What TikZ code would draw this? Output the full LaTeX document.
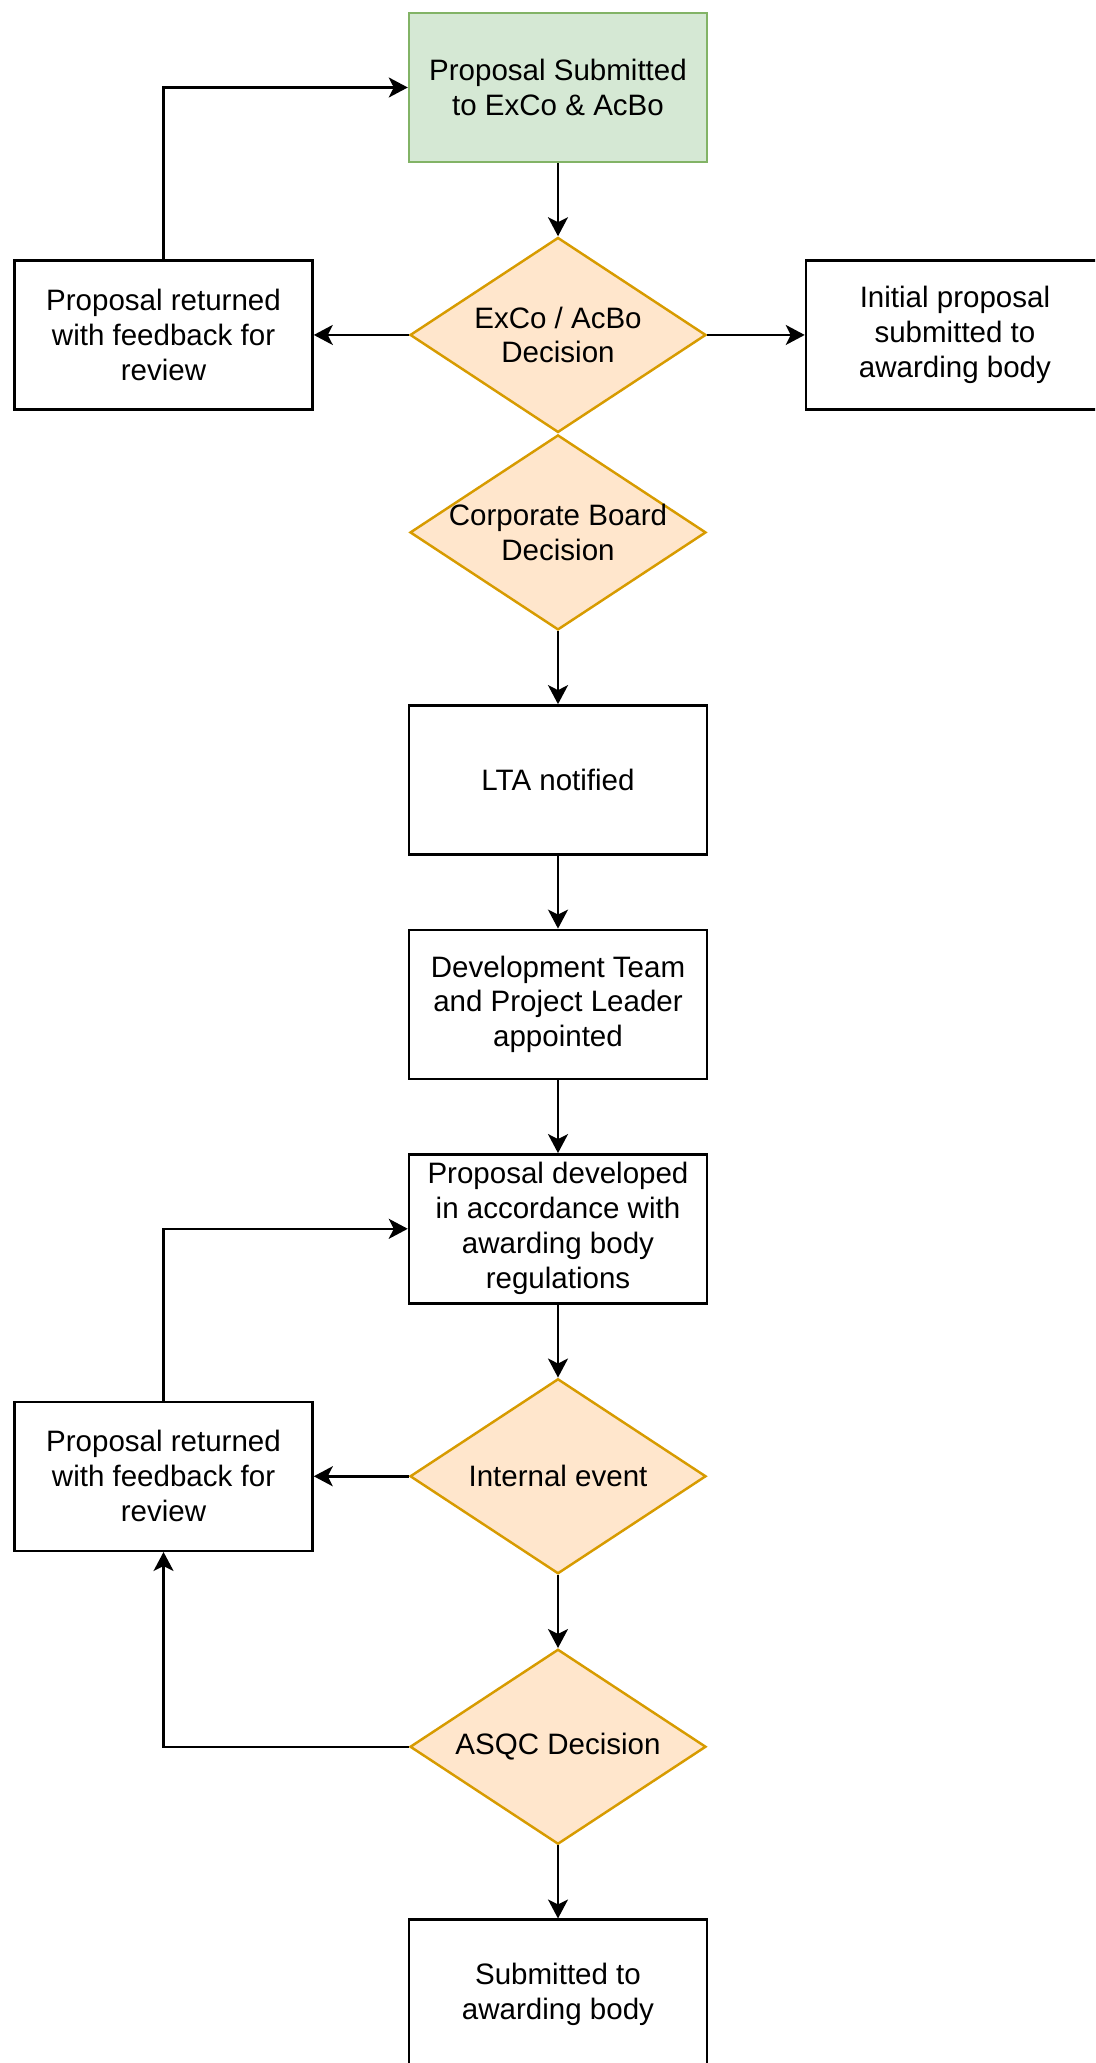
\documentclass[tikz,border=0pt]{standalone}
\usepackage{fontspec}
\setmainfont{Liberation Sans}
\usetikzlibrary{positioning,shapes.geometric,arrows.meta}

\definecolor{startfill}{HTML}{D5E8D4}
\definecolor{startborder}{HTML}{82B366}
\definecolor{decfill}{HTML}{FFE6CC}
\definecolor{decborder}{HTML}{D79B00}

\tikzset{
  box/.style={draw,rectangle,line width=1.4pt,minimum width=5.96cm,minimum height=2.98cm,inner sep=0pt,align=center},
  decision/.style={draw=decborder,fill=decfill,diamond,aspect=1.52,line width=1.4pt,minimum width=5.92cm,minimum height=3.9cm,inner xsep=-0.5cm,inner ysep=0pt,align=center},
}

\begin{document}
\begin{tikzpicture}[font=\fontsize{16.8}{19.9}\selectfont,
    >={Stealth[length=0.38cm,width=0.4cm,inset=0.1cm]},
    node distance=1.46cm]
    \useasboundingbox (0,0) rectangle (21.9,-41.26);
    \clip (0,0) rectangle (21.9,-41.26);

    \node[box,fill=startfill,draw=startborder] (sub) at (11.16,-1.75) {Proposal Submitted\\to ExCo \& AcBo};
    \node[decision,below=of sub] (exco) {ExCo / AcBo\\Decision};
    \node[decision,below=0cm of exco] (corp) {Corporate Board\\Decision};
    \node[box,below=of corp] (lta) {LTA notified};
    \node[box,below=of lta] (team) {Development Team\\and Project Leader\\appointed};
    \node[box,below=of team] (dev) {Proposal developed\\in accordance with\\awarding body\\regulations};
    \node[decision,below=of dev] (event) {Internal event};
    \node[decision,below=of event] (asqc) {ASQC Decision};
    \node[box,below=of asqc] (final) {Submitted to\\awarding body};
    \node[box,left=1.9cm of exco] (ret1) {Proposal returned\\with feedback for\\review};
    \node[box,right=1.95cm of exco] (init) {Initial proposal\\submitted to\\awarding body};
    \node[box,left=1.9cm of event] (ret2) {Proposal returned\\with feedback for\\review};

    %% main line
    \draw[->,line width=1.4pt] (sub) -- (exco);
    \draw[->,line width=1.4pt] (corp) -- (lta);
    \draw[->,line width=1.4pt] (lta) -- (team);
    \draw[->,line width=1.4pt] (team) -- (dev);
    \draw[->,line width=1.4pt] (dev) -- (event);
    \draw[->,line width=1.4pt] (event) -- (asqc);
    \draw[->,line width=1.4pt] (asqc) -- (final);
    %% sides
    \draw[->,line width=1.4pt] (exco) -- (ret1);
    \draw[->,line width=1.4pt] (exco) -- (init);
    \draw[->,line width=1.4pt] (event) -- (ret2);
    %% loops back
    \draw[->,line width=1.4pt] (ret1.north) |- (sub.west);
    \draw[->,line width=1.4pt] (ret2.north) |- (dev.west);
    \draw[->,line width=1.4pt] (asqc.west) -| (ret2.south);
\end{tikzpicture}
\end{document}
